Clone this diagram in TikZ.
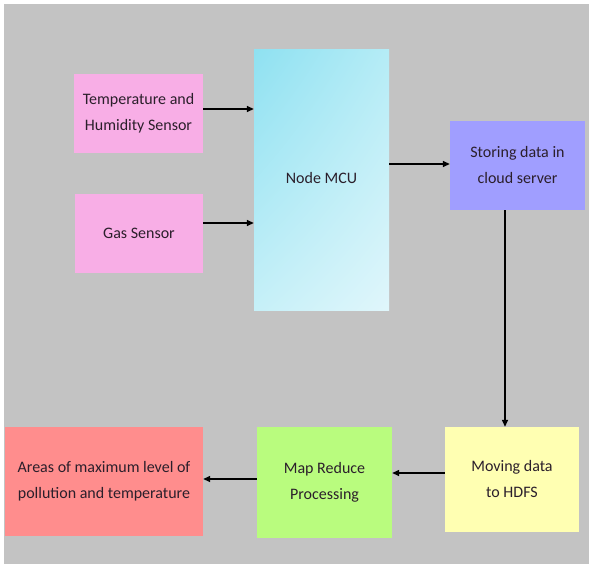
\documentclass[tikz,border=0pt]{standalone}
\usepackage{fontspec}
\setmainfont{Carlito}
\usetikzlibrary{arrows.meta,shadings}
\definecolor{bg}{HTML}{C3C3C3}
\definecolor{pinkbox}{HTML}{F8AEE6}
\definecolor{bluebox}{HTML}{A09EFF}
\definecolor{yellowbox}{HTML}{FFFFB2}
\definecolor{greenbox}{HTML}{B9FC7E}
\definecolor{redbox}{HTML}{FF8D8D}
\definecolor{mcuA}{HTML}{8FE1F1}
\definecolor{mcuB}{HTML}{B5ECF6}
\definecolor{mcuC}{HTML}{C6F0F8}
\definecolor{mcuD}{HTML}{E0F6FB}
\definecolor{txt}{HTML}{2B1F2B}
\tikzset{
  box/.style={rectangle, inner sep=0pt, align=center, text=txt,
    font=\fontsize{16pt}{26pt}\selectfont},
  arr/.style={-{Triangle[length=7pt,width=6pt]}, line width=1.4pt, black}
}
\begin{document}
\begin{tikzpicture}[x=1pt,y=-1pt]
\useasboundingbox (0,0) rectangle (589,564);
\fill[white] (0,0) rectangle (589,564);
\fill[bg] (4,4) rectangle (589,564);
% MCU gradient
\shade[upper left=mcuA, upper right=mcuB, lower left=mcuC, lower right=mcuD] (254,50) rectangle (389,310);
\node[box, minimum width=135pt, minimum height=260pt] (mcu) at (321.5,178) {Node MCU};
\node[box, fill=pinkbox, minimum width=129pt, minimum height=79pt] (temp) at (138.5,113.5) {Temperature and\\Humidity Sensor};
\node[box, fill=pinkbox, minimum width=128pt, minimum height=79pt] (gas) at (139,233.5) {Gas Sensor};
\node[box, fill=bluebox, minimum width=135pt, minimum height=89pt] (store) at (517.5,165.5) {Storing data in\\cloud server};
\node[box, fill=yellowbox, minimum width=134pt, minimum height=105pt] (move) at (512,479.5) {Moving data\\to HDFS};
\node[box, fill=greenbox, minimum width=135pt, minimum height=111pt] (map) at (324.5,482.5) {Map Reduce\\Processing};
\node[box, fill=redbox, minimum width=198pt, minimum height=109pt] (areas) at (104,481.5) {Areas of maximum level of\\pollution and temperature};
% connectors
\draw[arr] ([yshift=4.5pt]temp.east) -- ([yshift=4.5pt]temp.east -| mcu.west);
\draw[arr] ([yshift=10.5pt]gas.east) -- ([yshift=10.5pt]gas.east -| mcu.west);
\draw[arr] ([yshift=1.5pt]store.west -| mcu.east) -- ([yshift=1.5pt]store.west);
\draw[arr] ([xshift=-12.5pt]store.south) -- ([xshift=-12.5pt]store.south |- move.north);
\draw[arr] ([yshift=6.5pt]move.west) -- ([yshift=6.5pt]move.west -| map.east);
\draw[arr] ([yshift=3.5pt]map.west) -- ([yshift=3.5pt]map.west -| areas.east);
\end{tikzpicture}
\end{document}
